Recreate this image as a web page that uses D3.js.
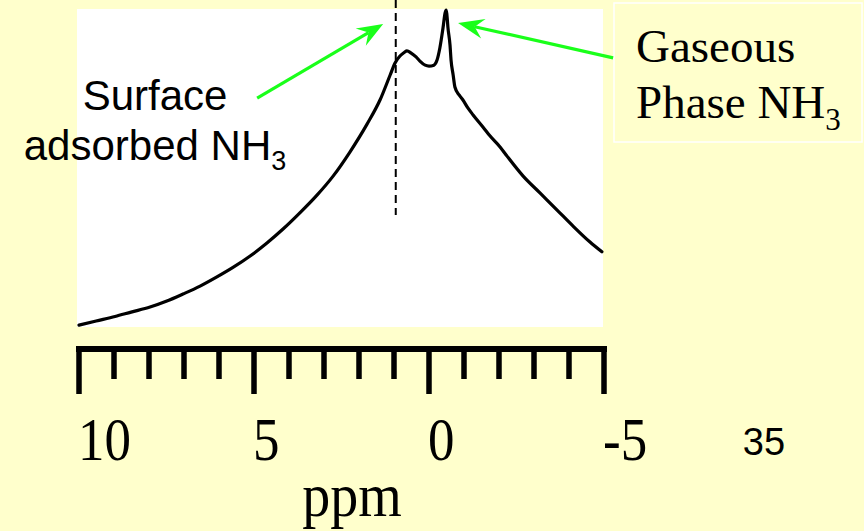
<!DOCTYPE html>
<html><head><meta charset="utf-8">
<script src="https://cdn.jsdelivr.net/npm/d3@7"></script>
<style>html,body{margin:0;padding:0;background:#FFFFCC;}svg{display:block}</style>
</head><body><svg id="c" width="864" height="531"></svg>
<script>
// chemical shift (ppm) and relative intensity
const ppm = [10.0, 9.51, 8.97, 8.51, 7.97, 7.49, 7.03, 6.54, 6.06, 5.60, 5.11, 4.63, 4.17, 3.69, 3.20, 2.74, 2.26, 1.77, 1.40, 1.11, 0.97, 0.83, 0.71, 0.63, 0.51, 0.37, 0.26, 0.11, 0.00, -0.14, -0.23, -0.31, -0.40, -0.46, -0.49, -0.51, -0.54, -0.60, -0.63, -0.69, -0.74, -0.86, -0.97, -1.11, -1.26, -1.54, -1.74, -2.03, -2.23, -2.69, -3.17, -3.66, -4.11, -4.60, -4.94];
const intensity = [0.6, 1.9, 3.3, 4.7, 6.3, 8.2, 10.4, 12.9, 15.8, 18.8, 22.4, 26.5, 30.9, 36.0, 41.6, 47.6, 55.2, 64.0, 71.6, 79.5, 83.3, 85.5, 86.6, 87.1, 86.4, 85.2, 83.9, 82.6, 82.3, 82.6, 84.2, 88.0, 94.3, 99.1, 100, 98.7, 94.6, 89.0, 84.2, 79.5, 75.7, 73.2, 71.6, 69.1, 66.9, 63.1, 60.3, 56.8, 53.9, 47.6, 42.3, 36.9, 31.9, 26.8, 23.7];
const tickValues = [10, 9, 8, 7, 6, 5, 4, 3, 2, 1, 0, -1, -2, -3, -4, -5];
const majorTicks = [10, 5, 0, -5];
const tickLabels = ["10", "5", "0", "-5"];
const adsorbedPeakPpm = 0.95;
const xLabel = "ppm";
const slideNumber = "35";

const svg = d3.select("#c");
const W = 864, H = 531;
const bg = "#FFFFCC", green = "#1aff1a";
svg.append("rect").attr("width", W).attr("height", H).attr("fill", bg);

const x = d3.scaleLinear().domain([10, -5]).range([79, 604]);
const y = d3.scaleLinear().domain([0, 100]).range([327, 10]);

// white plot panel
svg.append("rect").attr("x", 77).attr("y", 9).attr("width", 526).attr("height", 318).attr("fill", "#ffffff");

// dashed marker line
svg.append("line").attr("x1", x(adsorbedPeakPpm)).attr("x2", x(adsorbedPeakPpm))
  .attr("y1", 0).attr("y2", 215).attr("stroke", "#000").attr("stroke-width", 2)
  .attr("stroke-dasharray", "8,5");

// spectrum
const data = ppm.map((p, i) => ({p, v: intensity[i]}));
svg.append("path").datum(data)
  .attr("d", d3.line().x(d => x(d.p)).y(d => y(d.v)).curve(d3.curveMonotoneX))
  .attr("fill", "none").attr("stroke", "#000").attr("stroke-width", 3.2)
  .attr("stroke-linejoin", "round").attr("stroke-linecap", "round");

// axis: thick bar with downward ticks
const ax = svg.append("g");
ax.append("line").attr("x1", x(10) - 3).attr("x2", x(-5) + 3).attr("y1", 349).attr("y2", 349)
  .attr("stroke", "#000").attr("stroke-width", 6);
ax.selectAll("line.t").data(tickValues).join("line").attr("class", "t")
  .attr("x1", d => x(d)).attr("x2", d => x(d)).attr("y1", 349)
  .attr("y2", d => majorTicks.includes(d) ? 394 : 379)
  .attr("stroke", "#000").attr("stroke-width", 5.5);

// tick labels (serif, slightly stretched vertically)
const serif = "'Liberation Serif','Times New Roman',serif";
const sans = "'Liberation Sans',Arial,sans-serif";
majorTicks.forEach((t, i) => {
  svg.append("g").attr("transform", `translate(${x(t) - 1},460) scale(1,1.14)`)
    .append("text").text(tickLabels[i]).attr("font-family", serif).attr("font-size", 53)
    .attr("fill", "#000");
});
svg.append("g").attr("transform", "translate(352,516) scale(1,1.1)")
  .append("text").text(xLabel).attr("text-anchor", "middle").attr("font-family", serif)
  .attr("font-size", 56).attr("fill", "#000");

svg.append("text").text(slideNumber).attr("x", 764).attr("y", 455).attr("text-anchor", "middle")
  .attr("font-family", sans).attr("font-size", 38).attr("fill", "#000");

// Surface adsorbed label
svg.append("text").attr("x", 155).attr("y", 110).attr("text-anchor", "middle")
  .attr("font-family", sans).attr("font-size", 42).attr("fill", "#000").text("Surface");
const t2 = svg.append("text").attr("x", 155).attr("y", 160).attr("text-anchor", "middle")
  .attr("font-family", sans).attr("font-size", 42).attr("fill", "#000");
t2.append("tspan").text("adsorbed NH");
t2.append("tspan").text("3").attr("font-size", 27).attr("dy", 10);

// Gaseous box
svg.append("rect").attr("x", 614).attr("y", 3).attr("width", 248).attr("height", 139)
  .attr("fill", bg).attr("stroke", "#ffffff").attr("stroke-width", 1.5);
svg.append("text").attr("x", 636).attr("y", 62).attr("font-family", serif).attr("font-size", 47)
  .attr("fill", "#000").text("Gaseous");
const t3 = svg.append("text").attr("x", 636).attr("y", 118).attr("font-family", serif)
  .attr("font-size", 47).attr("fill", "#000");
t3.append("tspan").text("Phase NH");
t3.append("tspan").text("3").attr("font-size", 31).attr("dy", 12);

// arrows
function arrow(p1, v1, p2, v2) {
  const x1 = x(p1), y1 = y(v1), x2 = x(p2), y2 = y(v2);
  const dx = x2 - x1, dy = y2 - y1, L = Math.hypot(dx, dy);
  const ux = dx / L, uy = dy / L, px = -uy, py = ux;
  const hl = 26, hw = 10, notch = 17;
  svg.append("line").attr("x1", x1).attr("y1", y1)
    .attr("x2", x2 - ux * notch).attr("y2", y2 - uy * notch)
    .attr("stroke", green).attr("stroke-width", 3.2);
  const pts = [[x2, y2], [x2 - ux * hl + px * hw, y2 - uy * hl + py * hw],
    [x2 - ux * notch, y2 - uy * notch], [x2 - ux * hl - px * hw, y2 - uy * hl - py * hw]];
  svg.append("path").attr("d", "M" + pts.map(p => p.join(",")).join("L") + "Z").attr("fill", green);
}
arrow(4.91, 72.2, 1.31, 95.6);
arrow(-5.26, 84.9, -0.83, 95.9);
</script></body></html>
